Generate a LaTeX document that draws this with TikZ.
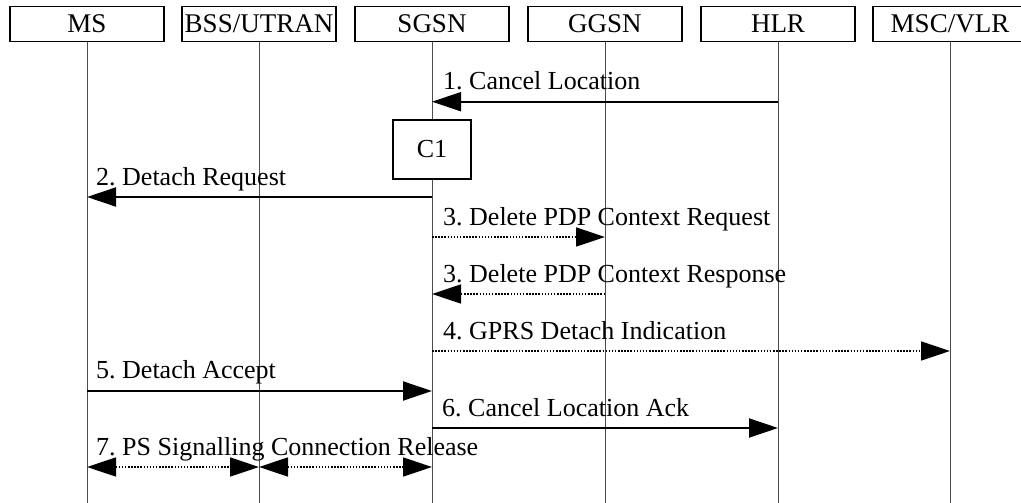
\documentclass[tikz,border=0pt]{standalone}
\usepackage{fontspec}
\setmainfont{Liberation Serif}
\usetikzlibrary{arrows.meta}
\frenchspacing
\begin{document}
\begin{tikzpicture}[x=1pt,y=-1pt,
 txt/.style={font=\fontsize{26}{30}\selectfont},
 hdr/.style={font=\fontsize{27}{31}\selectfont, draw, line width=1.6pt, minimum width=154pt, minimum height=35pt, inner sep=0pt, fill=white},
 cbox/.style={txt, draw, line width=1.6pt, minimum width=78pt, minimum height=59pt, inner sep=0pt, fill=white},
 life/.style={line width=1pt, black!70},
 tipT/.style={-{Triangle[length=29pt,width=19pt]}},
 msg/.style={tipT, line width=2pt},
 dmsg/.style={tipT, line width=1.5pt, dash pattern=on 1.5pt off 1.6pt},
 dbl/.style={{Triangle[length=29pt,width=19pt]}-{Triangle[length=29pt,width=19pt]}, line width=1.5pt, dash pattern=on 1.5pt off 1.6pt},
 lbl/.style={txt, anchor=base west, inner sep=0pt}]
\useasboundingbox (0,0) rectangle (1021,503);
\clip (0,0) rectangle (1021,503);
% headers
\node[hdr] (MS)   at (87,24)  {MS};
\node[hdr] (BSS)  at (259,24) {BSS/UTRAN};
\node[hdr] (SGSN) at (432,24) {SGSN};
\node[hdr] (GGSN) at (605,24) {GGSN};
\node[hdr] (HLR)  at (778,24) {HLR};
\node[hdr] (MSC)  at (950,24) {MSC/VLR};
% lifeline ends
\foreach \n/\x in {MS/87,BSS/259,SGSN/432,GGSN/605,HLR/778,MSC/950}{
  \coordinate (\n end) at (\x,503);
  \draw[life] (\n.south) -- (\n end);
}
% C1
\node[cbox] (C1) at (432,149.5) {C1};
% message endpoints
\coordinate (h1) at (778,101.7); \coordinate (s1) at (432,101.7);
\coordinate (s2) at (432,197);   \coordinate (m2) at (87,197);
\coordinate (s3) at (432,237);   \coordinate (g3) at (605,237);
\coordinate (g4) at (605,294);   \coordinate (s4) at (432,294);
\coordinate (s5) at (432,351);   \coordinate (v5) at (950,351);
\coordinate (m6) at (87,391);    \coordinate (s6) at (432,391);
\coordinate (s7) at (432,428);   \coordinate (h7) at (778,428);
\coordinate (m8) at (87,467);    \coordinate (b8) at (259,467);  \coordinate (s8) at (432,467);
% messages
\draw[msg] (h1) -- (s1);
\node[lbl] (L1) at (443,90) {1. Cancel Location};
\draw[msg] (s2) -- (m2);
\node[lbl] (L2) at (96,185) {2. Detach Request};
\draw[dmsg] (s3) -- (g3);
\node[lbl] (L3) at (443,225) {3. Delete PDP Context Request};
\draw[dmsg] (g4) -- (s4);
\node[lbl] (L4) at (443,282) {3. Delete PDP Context Response};
\draw[dmsg] (s5) -- (v5);
\node[lbl] (L5) at (443,339) {4. GPRS Detach Indication};
\draw[msg] (m6) -- (s6);
\node[lbl] (L6) at (96,378) {5. Detach Accept};
\draw[msg] (s7) -- (h7);
\node[lbl] (L7) at (442,416) {6. Cancel Location Ack};
\draw[dbl] (m8) -- (b8);
\draw[dbl] (b8) -- (s8);
\node[lbl] (L8) at (96,455) {7. PS Signalling Connection Release};
\end{tikzpicture}
\end{document}
